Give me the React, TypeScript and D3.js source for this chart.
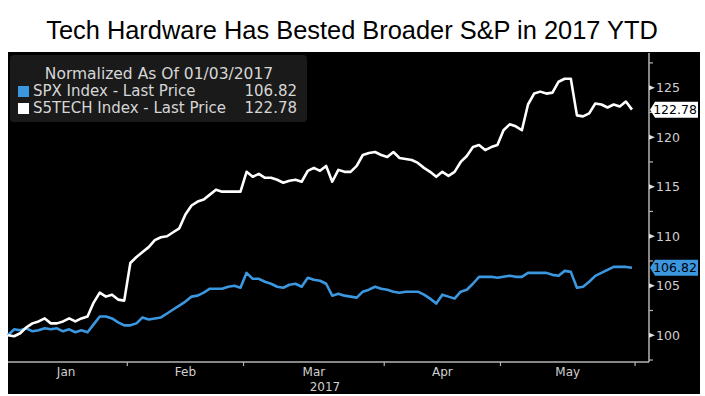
import * as d3 from "d3";
import React from "react";

const monthLabels = ["Jan", "Feb", "Mar", "Apr", "May"];
const monthTradingDays = [20, 19, 23, 19, 22];
const yearLabel = "2017";

const techValues = [
  100.0, 99.9, 100.2, 100.8, 101.2, 101.4, 101.7, 101.2, 101.2, 101.4,
  101.7, 101.4, 101.7, 101.9, 103.3, 104.3, 103.9, 104.1, 103.6, 103.5,
  107.3, 107.9, 108.4, 108.9, 109.6, 109.9, 110.0, 110.4, 110.8, 112.2,
  113.1, 113.5, 113.7, 114.2, 114.7, 114.5, 114.5, 114.5, 114.5, 116.5,
  116.0, 116.3, 115.9, 115.9, 115.7, 115.4, 115.6, 115.7, 115.5, 116.6,
  116.9, 116.6, 117.1, 115.5, 116.7, 116.5, 116.5, 117.1, 118.2, 118.4,
  118.5, 118.2, 118.0, 118.5, 117.9, 117.8, 117.7, 117.4, 116.9, 116.5,
  116.0, 116.5, 116.1, 116.5, 117.5, 118.1, 119.0, 119.2, 118.7, 119.0,
  119.2, 120.7, 121.3, 121.1, 120.7, 123.3, 124.4, 124.6, 124.4, 124.5,
  125.6, 125.9, 125.9, 122.2, 122.1, 122.4, 123.4, 123.3, 123.0, 123.3,
  123.1, 123.6, 122.78,
];

const spxValues = [
  100.0, 100.6, 100.5, 100.7, 100.4, 100.5, 100.7, 100.6, 100.7, 100.4,
  100.6, 100.3, 100.5, 100.3, 101.1, 101.9, 101.9, 101.7, 101.3, 101.0,
  101.0, 101.2, 101.8, 101.6, 101.7, 101.8, 102.2, 102.6, 103.0, 103.4,
  103.9, 104.0, 104.3, 104.7, 104.7, 104.7, 104.9, 105.0, 104.8, 106.3,
  105.7, 105.7, 105.4, 105.2, 104.9, 104.8, 105.1, 105.2, 104.9, 105.8,
  105.6, 105.5, 105.2, 104.0, 104.2, 104.0, 103.9, 103.8, 104.4, 104.6,
  104.9, 104.7, 104.6, 104.4, 104.3, 104.4, 104.4, 104.4, 104.1, 103.7,
  103.2, 104.1, 103.9, 103.7, 104.4, 104.6, 105.2, 105.9, 105.9, 105.9,
  105.8, 105.9, 106.0, 105.9, 105.9, 106.3, 106.3, 106.3, 106.3, 106.1,
  106.0, 106.5, 106.4, 104.8, 104.9, 105.4, 106.0, 106.3, 106.6, 106.9,
  106.9, 106.9, 106.82,
];

const yMajorTicks = [100, 105, 110, 115, 120, 125];
const yMinorTicks = [97.5, 102.5, 107.5, 112.5, 117.5, 122.5, 127.5];

const title = "Tech Hardware Has Bested Broader S&P in 2017 YTD";
const legendTitle = "Normalized As Of 01/03/2017";
const seriesNames = ["SPX Index - Last Price", "S5TECH Index - Last Price"];

const blue = "#3a97e0";
const axisColor = "#b4b4b4";
const font = "'DejaVu Sans', sans-serif";

export default function App() {
  const width = 705;
  const height = 396;
  const plotLeft = 8;
  const plotRight = 649;
  const plotTop = 53;
  const plotBottom = 362;

  const n = techValues.length;
  const x = d3.scaleLinear().domain([0, n - 1]).range([plotLeft, 632]);
  const y = d3.scaleLinear().domain([97.3, 128.5]).range([plotBottom, plotTop]);

  const line = d3
    .line<number>()
    .x((_, i) => x(i))
    .y((d) => y(d));

  // month boundaries, in trading-day index
  const bounds = [-0.5, ...d3.cumsum(monthTradingDays).map((c) => c - 0.5)];

  const lastSpx = spxValues[n - 1];
  const lastTech = techValues[n - 1];

  const tag = (v: number, fill: string) => {
    const cy = y(v);
    const h = 16;
    return (
      <g>
        <path
          d={`M${plotRight + 1},${cy} L${plotRight + 6},${cy - h / 2} L${698},${cy - h / 2} L${698},${cy + h / 2} L${plotRight + 6},${cy + h / 2} Z`}
          fill={fill}
        />
        <text x={675} y={cy + 4.5} textAnchor="middle" fontSize={12.5} fill="#000" fontFamily={font}>
          {v.toFixed(2)}
        </text>
      </g>
    );
  };

  return (
    <svg
      width={width}
      height={height}
      style={{ position: "absolute", left: 0, top: 0, background: "#fff" }}
    >
      <text
        x={352}
        y={39}
        textAnchor="middle"
        fontSize={25.4}
        fontFamily="'Liberation Sans', Arial, sans-serif"
        fill="#000"
      >
        {title}
      </text>

      <rect x={8} y={52} width={692} height={342} fill="#000" />

      {/* legend */}
      <rect x={10} y={55} width={297} height={67} rx={4} fill="#1a1a1a" />
      <text x={159} y={79} textAnchor="middle" fontSize={15.5} fill="#d6d6d6" fontFamily={font}>
        {legendTitle}
      </text>
      <rect x={18} y={86} width={11} height={11} fill={blue} />
      <text x={33} y={96} fontSize={15} fill="#d6d6d6" fontFamily={font}>
        {seriesNames[0]}
      </text>
      <text x={297} y={96} textAnchor="end" fontSize={15} fill="#d6d6d6" fontFamily={font}>
        {lastSpx.toFixed(2)}
      </text>
      <rect x={18} y={103} width={11} height={11} fill="#fff" />
      <text x={33} y={113} fontSize={15} fill="#d6d6d6" fontFamily={font}>
        {seriesNames[1]}
      </text>
      <text x={297} y={113} textAnchor="end" fontSize={15} fill="#d6d6d6" fontFamily={font}>
        {lastTech.toFixed(2)}
      </text>

      {/* axes */}
      <line x1={plotLeft} x2={plotRight} y1={plotBottom} y2={plotBottom} stroke={axisColor} strokeWidth={1.5} />
      <line x1={plotRight} x2={plotRight} y1={plotTop} y2={plotBottom} stroke={axisColor} strokeWidth={1.5} />
      {bounds.slice(1).map((b, i) => (
        <line key={i} x1={x(b)} x2={x(b)} y1={plotBottom} y2={plotBottom + 4} stroke={axisColor} strokeWidth={1.2} />
      ))}
      {monthLabels.map((m, i) => (
        <text
          key={m}
          x={(x(bounds[i]) + x(bounds[i + 1])) / 2}
          y={376}
          textAnchor="middle"
          fontSize={12}
          fill="#cfcfcf"
          fontFamily={font}
        >
          {m}
        </text>
      ))}
      <text x={325} y={391} textAnchor="middle" fontSize={12} fill="#cfcfcf" fontFamily={font}>
        {yearLabel}
      </text>

      {yMinorTicks.map((t) => (
        <line key={t} x1={plotRight} x2={plotRight + 4} y1={y(t)} y2={y(t)} stroke={axisColor} strokeWidth={1.2} />
      ))}
      {yMajorTicks.map((t) => (
        <g key={t}>
          <path
            d={`M${plotRight},${y(t) - 2.5} L${plotRight + 6},${y(t)} L${plotRight},${y(t) + 2.5} Z`}
            fill="#e0e0e0"
          />
          <text x={656} y={y(t) + 4.5} fontSize={12.5} fill="#cfcfcf" fontFamily={font}>
            {t}
          </text>
        </g>
      ))}

      {/* series */}
      <path d={line(spxValues) ?? ""} fill="none" stroke={blue} strokeWidth={2.6} strokeLinejoin="round" />
      <path d={line(techValues) ?? ""} fill="none" stroke="#fff" strokeWidth={2.6} strokeLinejoin="round" />

      {tag(lastTech, "#fff")}
      {tag(lastSpx, blue)}
    </svg>
  );
}
